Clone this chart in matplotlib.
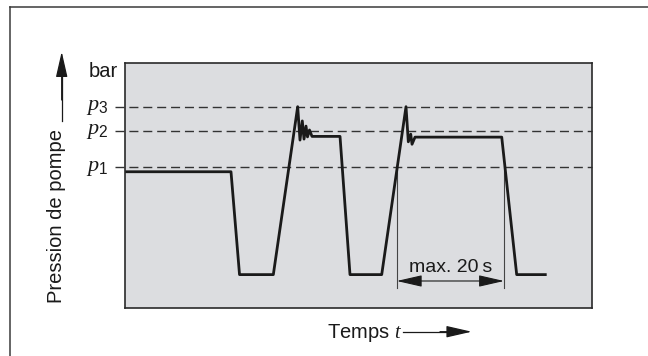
import numpy as np
import matplotlib
matplotlib.use("Agg")
import matplotlib.pyplot as plt
import matplotlib.transforms as mtrans
from matplotlib.lines import Line2D

plt.rcParams['font.family'] = ['Liberation Sans', 'DejaVu Sans']
plt.rcParams['mathtext.fontset'] = 'custom'
plt.rcParams['mathtext.rm'] = 'Liberation Sans'
plt.rcParams['mathtext.it'] = 'Liberation Serif:italic'

# pompe: temps (s) et pression (unités arbitraires)
temps = [0.0, 19.70, 21.29, 27.59, 32.13, 32.56, 32.99, 33.31, 33.68, 33.96,
         34.33, 34.80, 40.02, 41.88, 47.79, 52.32, 52.75, 53.20, 53.44,
         54.00, 70.16, 72.95, 78.54]
pression = [5.55, 5.55, 1.36, 1.36, 8.20, 6.84, 7.62, 6.88, 7.41, 6.97,
            7.25, 6.99, 6.99, 1.36, 1.36, 8.20, 6.77, 7.08, 6.67,
            6.96, 6.96, 1.36, 1.36]

niveaux = [5.74, 7.21, 8.20]
labels_niveaux = ['$p_1$', '$p_2$', '$p_3$']

t_debut, t_fin = 50.59, 70.59   # max. 20 s
y_haut, y_fleche, y_bas = 5.78, 1.10, 0.80

W, H = 648, 356
fig = plt.figure(figsize=(W / 100, H / 100), dpi=100)

def fx(px):
    return px / W

def fy(py):
    return 1 - py / H

# axes principal (zone grise)
ax = fig.add_axes([fx(125.3), fy(308), (591.7 - 125.3) / W, (308 - 62.5) / H])
ax.set_facecolor('#dcdde0')
ax.set_xlim(0, 86.93)
ax.set_ylim(0, 10)
ax.set_xticks([])
ax.set_yticks([])
for s in ax.spines.values():
    s.set_color('#2a2a2a')
    s.set_linewidth(1.2)

# niveaux de pression en tirets
for p, lab in zip(niveaux, labels_niveaux):
    ax.plot([-1.92, 86.93], [p, p], color='#333333', lw=1.0,
            ls=(0, (6.5, 3.5)), clip_on=False, zorder=2)
    trans = mtrans.blended_transform_factory(ax.transAxes, ax.transData)
    ax.text(-0.037, p, lab, transform=trans, ha='right', va='center',
            fontsize=16, color='#1a1a1a')

# courbe de pression
ax.plot(temps, pression, color='#1a1a1a', lw=2.0, solid_joinstyle='round',
        solid_capstyle='butt', zorder=3)

# cote max. 20 s
ax.plot([t_debut, t_debut], [y_bas, y_haut], color='#444444', lw=0.8, zorder=2)
ax.plot([t_fin, t_fin], [y_bas, y_haut], color='#444444', lw=0.8, zorder=2)
ax.annotate('', xy=(t_debut, y_fleche), xytext=(t_fin, y_fleche),
            arrowprops=dict(arrowstyle='<|-|>,head_length=1.05,head_width=0.24',
                            mutation_scale=15, color='#1a1a1a', lw=0.8,
                            shrinkA=0, shrinkB=0))
ax.text((t_debut + t_fin) / 2, 1.48, 'max. 20\u2009s', ha='center',
        va='baseline', fontsize=14, color='#1a1a1a')

# textes et flèches hors du cadre
fig.text(fx(118), fy(76.7), 'bar', ha='right', va='baseline', fontsize=14.5,
         color='#1a1a1a')
fig.text(fx(56.7), fy(216), 'Pression de pompe', rotation=90, ha='center',
         va='center', fontsize=14.5, color='#1a1a1a')
fig.add_artist(Line2D([fx(61.7), fx(61.7)], [fy(121), fy(70)],
                      color='#1a1a1a', lw=0.9))
fig.text(fx(326.7), fy(338), 'Temps $t$', ha='left', va='baseline',
         fontsize=14.5, color='#1a1a1a')
fig.add_artist(Line2D([fx(403), fx(455)], [fy(331.7), fy(331.7)],
                      color='#1a1a1a', lw=0.9))

arrow_kw = dict(arrowstyle='-|>,head_length=1.05,head_width=0.24',
                mutation_scale=15, color='#1a1a1a', lw=0.9,
                shrinkA=0, shrinkB=0)
fig.add_artist(matplotlib.patches.FancyArrowPatch(
    (fx(61.7), fy(100)), (fx(61.7), fy(51.7)),
    transform=fig.transFigure, **arrow_kw))
fig.add_artist(matplotlib.patches.FancyArrowPatch(
    (fx(440), fy(331.7)), (fx(471.7), fy(331.7)),
    transform=fig.transFigure, **arrow_kw))

# cadre extérieur (coupé à droite et en bas)
fig.add_artist(Line2D([fx(9.5), fx(9.5)], [fy(7.3), fy(H + 5)],
                      color='#3a3a3a', lw=1.1))
fig.add_artist(Line2D([fx(9.5), fx(W + 5)], [fy(7.3), fy(7.3)],
                      color='#3a3a3a', lw=1.1))

fig.savefig('out.png', dpi=100)
